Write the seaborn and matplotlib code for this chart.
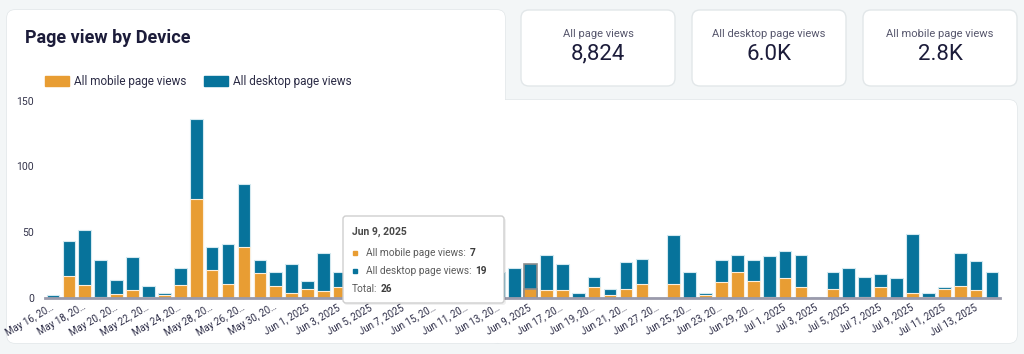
import matplotlib
matplotlib.use("Agg")
import matplotlib.pyplot as plt
import seaborn as sns
import pandas as pd
from matplotlib.patches import FancyBboxPatch, Rectangle

# one entry per day (category order as in the dashboard)
dates = [
    "May 16, 2025", "May 17, 2025", "May 18, 2025", "May 19, 2025", "May 20, 2025",
    "May 21, 2025", "May 22, 2025", "May 23, 2025", "May 24, 2025", "May 25, 2025",
    "May 28, 2025", "May 27, 2025", "May 26, 2025", "May 29, 2025", "May 30, 2025",
    "May 31, 2025", "Jun 1, 2025", "Jun 2, 2025", "Jun 3, 2025", "Jun 4, 2025",
    "Jun 5, 2025", "Jun 6, 2025", "Jun 7, 2025", "Jun 8, 2025", "Jun 15, 2025",
    "Jun 10, 2025", "Jun 11, 2025", "Jun 12, 2025", "Jun 13, 2025", "Jun 14, 2025",
    "Jun 9, 2025", "Jun 16, 2025", "Jun 17, 2025", "Jun 18, 2025", "Jun 19, 2025",
    "Jun 20, 2025", "Jun 21, 2025", "Jun 22, 2025", "Jun 27, 2025", "Jun 24, 2025",
    "Jun 25, 2025", "Jun 26, 2025", "Jun 23, 2025", "Jun 28, 2025", "Jun 29, 2025",
    "Jun 30, 2025", "Jul 1, 2025", "Jul 2, 2025", "Jul 3, 2025", "Jul 4, 2025",
    "Jul 5, 2025", "Jul 6, 2025", "Jul 7, 2025", "Jul 8, 2025", "Jul 9, 2025",
    "Jul 10, 2025", "Jul 11, 2025", "Jul 12, 2025", "Jul 13, 2025", "Jul 14, 2025",
]
mobile_views = [
    0, 17, 10, 1, 3, 6, 1, 2, 10, 75,
    21, 11, 39, 19, 9, 4, 7, 5, 8, 5,
    3, 8, 4, 6, 2, 5, 3, 4, 0, 0,
    7, 6, 6, 0, 8, 2, 7, 11, 0, 11,
    0, 2, 12, 20, 13, 1, 15, 8, 0, 7,
    0, 1, 8, 0, 4, 1, 7, 9, 6, 0,
]
desktop_views = [
    2, 26, 42, 28, 11, 25, 8, 2, 13, 61,
    18, 30, 48, 10, 11, 22, 6, 29, 12, 15,
    20, 12, 18, 10, 22, 14, 16, 12, 20, 23,
    19, 27, 20, 4, 8, 5, 20, 19, 0, 37,
    20, 2, 17, 13, 16, 31, 21, 25, 1, 13,
    23, 15, 10, 15, 45, 3, 1, 25, 22, 20,
]
tick_labels = [
    "May 16, 20…", "May 18, 20…", "May 20, 20…", "May 22, 20…", "May 24, 20…",
    "May 28, 20…", "May 26, 20…", "May 30, 20…", "Jun 1, 2025", "Jun 3, 2025",
    "Jun 5, 2025", "Jun 7, 2025", "Jun 15, 20…", "Jun 11, 20…", "Jun 13, 20…",
    "Jun 9, 2025", "Jun 17, 20…", "Jun 19, 20…", "Jun 21, 20…", "Jun 27, 20…",
    "Jun 25, 20…", "Jun 23, 20…", "Jun 29, 20…", "Jul 1, 2025", "Jul 3, 2025",
    "Jul 5, 2025", "Jul 7, 2025", "Jul 9, 2025", "Jul 11, 2025", "Jul 13, 2025",
]
y_ticks = [0, 50, 100, 150]
kpi_titles = ["All page views", "All desktop page views", "All mobile page views"]
kpi_values = ["8,824", "6.0K", "2.8K"]
hover_date = "Jun 9, 2025"

MOBILE = "#e89d33"
DESKTOP = "#07739b"
INK = "#1c1c3a"

sns.set_theme(style="white")
plt.rcParams["font.family"] = ["Roboto", "DejaVu Sans"]

df = pd.DataFrame({"date": dates, "mobile": mobile_views, "desktop": desktop_views})
df["total"] = df["mobile"] + df["desktop"]

W, H = 1024, 354
fig = plt.figure(figsize=(W / 100, H / 100), dpi=100, facecolor="#f3f6f7")


def pixel_layer(z):
    a = fig.add_axes([0, 0, 1, 1], zorder=z)
    a.set_xlim(0, W)
    a.set_ylim(H, 0)
    a.axis("off")
    a.patch.set_alpha(0)
    return a


def box(a, x0, y0, x1, y1, ec="#e2e7e9", fc="white", r=8, **kw):
    p = FancyBboxPatch((x0, y0), x1 - x0, y1 - y0,
                       boxstyle=f"round,pad=0,rounding_size={r}",
                       fc=fc, ec=ec, lw=1, **kw)
    a.add_patch(p)
    return p


# background cards
bg = pixel_layer(0)
main_parts = [(7, 10, 505, 343), (490, 100, 1017, 343)]
for x0, y0, x1, y1 in main_parts:
    box(bg, x0, y0, x1, y1)
for x0, y0, x1, y1 in main_parts:
    box(bg, x0, y0, x1, y1, ec="none")

kpi_boxes = [(521, 675), (692, 846), (863, 1017)]
for (x0, x1), title, value in zip(kpi_boxes, kpi_titles, kpi_values):
    box(bg, x0, 10, x1, 86)
    cx = (x0 + x1) / 2
    bg.text(cx, 34, title, ha="center", va="center", fontsize=8, color="#56566c")
    bg.text(cx, 54, value, ha="center", va="center", fontsize=16, color=INK)

bg.text(25, 38, "Page view by Device", fontsize=13, fontweight="bold",
        color=INK, va="center")
for x, col, lab in [(45, MOBILE, "All mobile page views"),
                    (204, DESKTOP, "All desktop page views")]:
    bg.add_patch(Rectangle((x, 76), 24, 10, color=col))
    bg.text(x + 29, 81.5, lab, fontsize=8.5, color="#2c2c46", va="center")

# chart
ax = fig.add_axes([45 / W, 1 - 298 / H, 955 / W, (298 - 100.7) / H], zorder=2)
ax.patch.set_alpha(0)
sns.barplot(data=df, x="date", y="total", color=DESKTOP, saturation=1, width=0.8,
            edgecolor="#d3e9f0", linewidth=0.8, ax=ax)
sns.barplot(data=df, x="date", y="mobile", color=MOBILE, saturation=1, width=0.8,
            edgecolor="#fbeedc", linewidth=0.8, ax=ax)

ax.set_xlim(-0.5, len(dates) - 0.5)
ax.set_ylim(0, 150)
ax.set_yticks(y_ticks)
ax.set_yticklabels([str(t) for t in y_ticks], fontsize=7.5, color="#33334a")
ax.set_xticks(range(0, len(dates), 2))
ax.set_xticklabels(tick_labels, rotation=30, ha="right", va="center",
                   rotation_mode="anchor", fontsize=7, color="#2c2c46")
ax.tick_params(axis="both", length=0)
ax.tick_params(axis="x", pad=6)
ax.tick_params(axis="y", pad=8)
ax.set_xlabel("")
ax.set_ylabel("")
for s in ["top", "right", "left"]:
    ax.spines[s].set_visible(False)
ax.spines["bottom"].set_color("#9a9aab")
ax.spines["bottom"].set_linewidth(2)

# hovered bar
i = dates.index(hover_date)
for cont in ax.containers:
    cont[i].set_edgecolor("#8d8d8d")
    cont[i].set_linewidth(1.2)

# tooltip
tip = pixel_layer(5)
box(tip, 344, 218, 506, 305, ec="none", fc="black", r=3, alpha=0.06)
box(tip, 343, 216, 504, 303, ec="#cfcfcf", r=3)
m, d = mobile_views[i], desktop_views[i]
tip.text(352, 232, hover_date, fontsize=7.5, fontweight="bold", color="#484848", va="center")
for y, col, lab, val in [(253, MOBILE, "All mobile page views:", m),
                         (271, DESKTOP, "All desktop page views:", d)]:
    tip.add_patch(Rectangle((352.5, y - 2.3), 4.5, 4.5, color=col))
    t = tip.text(366, y, lab, fontsize=7.3, color="#5c5c5c", va="center")
    tip.annotate(str(val), xy=(1, 0.5), xycoords=t, xytext=(2.5, 0),
                 textcoords="offset points", va="center", fontsize=7.3,
                 fontweight="bold", color="#3c3c3c")
t = tip.text(352, 289, "Total:", fontsize=7.3, color="#5c5c5c", va="center")
tip.annotate(str(m + d), xy=(1, 0.5), xycoords=t, xytext=(2.5, 0),
             textcoords="offset points", va="center", fontsize=7.3,
             fontweight="bold", color="#3c3c3c")

fig.savefig("out.png", dpi=100, facecolor=fig.get_facecolor())
